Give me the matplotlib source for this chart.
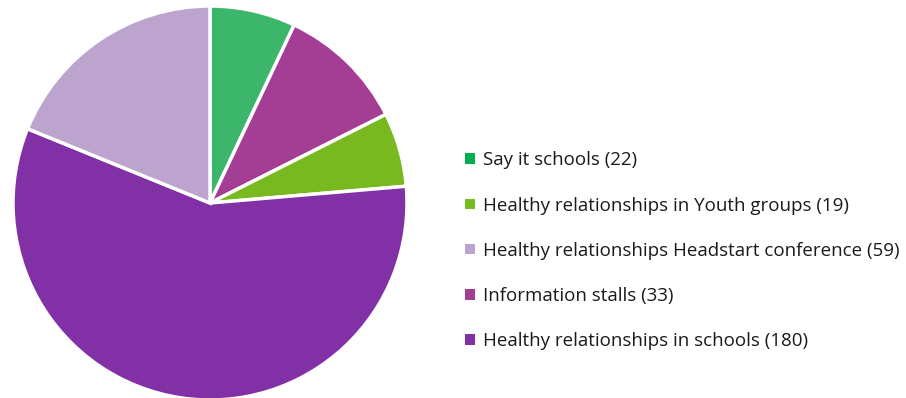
import matplotlib
matplotlib.use("Agg")
import matplotlib.pyplot as plt
from matplotlib.patches import Patch

plt.rcParams['font.family'] = ['Open Sans', 'DejaVu Sans']

# activities in pie order (clockwise from 12 o'clock)
pie_labels = ['Say it schools', 'Information stalls',
              'Healthy relationships in Youth groups',
              'Healthy relationships in schools',
              'Healthy relationships Headstart conference']
pie_values = [22, 33, 19, 180, 59]
pie_colors = ['#3bb66a', '#a43d94', '#78b91f', '#8230a6', '#bda4ce']

# legend order and swatch colours
legend_labels = ['Say it schools', 'Healthy relationships in Youth groups',
                 'Healthy relationships Headstart conference',
                 'Information stalls', 'Healthy relationships in schools']
legend_colors = ['#00b050', '#78bb1e', '#bda4ce', '#a43d94', '#8230a6']

fig = plt.figure(figsize=(9.06, 3.98), dpi=100)
ax = fig.add_axes([0, 0, 1, 1])
ax.set_xlim(0, 906)
ax.set_ylim(0, 398)
ax.set_aspect('equal')
ax.axis('off')

ax.pie(pie_values, colors=pie_colors, startangle=90, counterclock=False,
       center=(210, 195), radius=197,
       wedgeprops=dict(edgecolor='white', linewidth=2.5))
ax.set_xlim(0, 906)
ax.set_ylim(0, 398)

vals = dict(zip(pie_labels, pie_values))
handles = [Patch(facecolor=c, edgecolor='none') for c in legend_colors]
texts = [f'{l} ({vals[l]})' for l in legend_labels]
ax.legend(handles, texts, loc='upper left', bbox_to_anchor=(456 / 906, 1 - 142 / 398),
          frameon=False, fontsize=13.5, handlelength=0.5, handleheight=0.5,
          handletextpad=0.45, labelspacing=1.45, borderpad=0, labelcolor='#1a1a1a')

fig.savefig('out.png', dpi=100)
